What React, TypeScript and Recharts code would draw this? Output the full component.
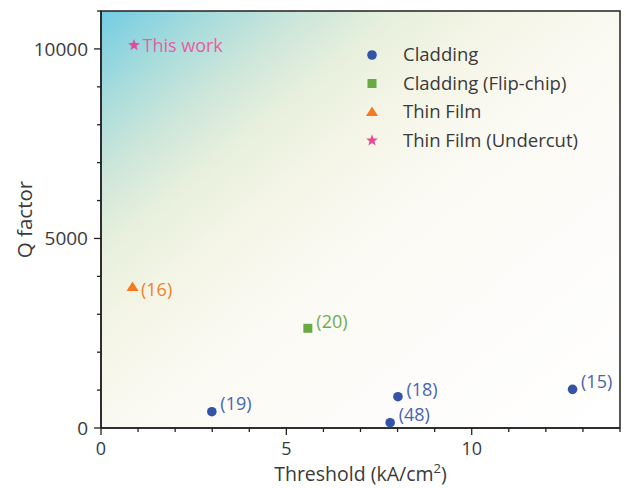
import React from 'react';
import { ScatterChart, Scatter, XAxis, YAxis, ReferenceArea, Legend } from 'recharts';

// ---- data ----
const claddingThreshold = [2.99, 7.8, 8.01, 12.72];
const claddingQ = [430, 140, 825, 1020];
const claddingRefs = ['(19)', '(48)', '(18)', '(15)'];

const flipThreshold = [5.58];
const flipQ = [2630];
const flipRefs = ['(20)'];

const thinThreshold = [0.85];
const thinQ = [3720];
const thinRefs = ['(16)'];

const undercutThreshold = [0.89];
const undercutQ = [10100];
const undercutRefs = ['This work'];

const xTicks = [0, 1, 2, 3, 4, 5, 6, 7, 8, 9, 10, 11, 12, 13, 14];
const xMajor = [0, 5, 10];
const yTicks = [0, 1000, 2000, 3000, 4000, 5000, 6000, 7000, 8000, 9000, 10000, 11000];
const yMajor = [0, 5000, 10000];

const seriesNames = ['Cladding', 'Cladding (Flip-chip)', 'Thin Film', 'Thin Film (Undercut)'];

const build = (xs: number[], qs: number[], refs: string[]) =>
  xs.map((x, i) => ({ x, q: qs[i], ref: refs[i] }));

const claddingData = build(claddingThreshold, claddingQ, claddingRefs);
const flipData = build(flipThreshold, flipQ, flipRefs);
const thinData = build(thinThreshold, thinQ, thinRefs);
const undercutData = build(undercutThreshold, undercutQ, undercutRefs);

// ---- styles ----
const FONT = '"Open Sans", "Noto Sans", sans-serif';
const AXIS = '#222';
const TEXT = '#3a3a3a';
const C_BLUE = '#3452a6';
const C_BLUE_T = '#4a63b2';
const C_GREEN = '#6aaa45';
const C_GREEN_T = '#6fae4a';
const C_ORANGE = '#f47b20';
const C_ORANGE_T = '#f0812e';
const C_PINK = '#e84a9a';
const C_PINK_T = '#e35fa3';

const starPoints = (cx: number, cy: number, ro: number, ri: number) => {
  const pts: string[] = [];
  for (let i = 0; i < 10; i++) {
    const r = i % 2 === 0 ? ro : ri;
    const a = -Math.PI / 2 + (i * Math.PI) / 5;
    pts.push(`${cx + r * Math.cos(a)},${cy + r * Math.sin(a)}`);
  }
  return pts.join(' ');
};

const Marker = ({ kind, cx, cy }: { kind: number; cx: number; cy: number }) => {
  if (kind === 0) return <circle cx={cx} cy={cy} r={4.8} fill={C_BLUE} />;
  if (kind === 1) return <rect x={cx - 4.5} y={cy - 4.5} width={9} height={9} fill={C_GREEN} />;
  if (kind === 2)
    return <polygon points={`${cx},${cy - 5.5} ${cx - 6},${cy + 4} ${cx + 6},${cy + 4}`} fill={C_ORANGE} />;
  return <polygon points={starPoints(cx, cy, 6.2, 2.6)} fill={C_PINK} />;
};

const makeShape = (kind: number, color: string, dy: number) => (props: any) => {
  const { cx, cy, payload } = props;
  return (
    <g>
      <Marker kind={kind} cx={cx} cy={cy} />
      <text x={cx + 8.5} y={cy + dy} dy="0.35em" fontSize={18} fill={color} fontFamily={FONT}>
        {payload.ref}
      </text>
    </g>
  );
};

const YTick = (props: any) => {
  const { x, y, payload } = props;
  const major = yMajor.includes(payload.value);
  return (
    <g>
      <line x1={x - (major ? 7 : 4)} x2={x} y1={y} y2={y} stroke={AXIS} strokeWidth={1.3} />
      {major && (
        <text x={x - 13} y={y} dy="0.35em" textAnchor="end" fontSize={19} fill={TEXT} fontFamily={FONT}>
          {payload.value}
        </text>
      )}
    </g>
  );
};

const XTick = (props: any) => {
  const { x, y, payload } = props;
  const major = xMajor.includes(payload.value);
  return (
    <g>
      <line x1={x} x2={x} y1={y} y2={y + (major ? 7 : 4)} stroke={AXIS} strokeWidth={1.3} />
      {major && (
        <text x={x} y={y + 27} textAnchor="middle" fontSize={18} fill={TEXT} fontFamily={FONT}>
          {payload.value}
        </text>
      )}
    </g>
  );
};

const XTitle = (props: any) => {
  const vb = props.viewBox;
  return (
    <text x={vb.x + vb.width / 2} y={vb.y + 53} textAnchor="middle" fontSize={19.5} fill={TEXT} fontFamily={FONT}>
      Threshold (kA/cm
      <tspan dy={-8} fontSize={13}>2</tspan>
      <tspan dy={8}>)</tspan>
    </text>
  );
};

const YTitle = (props: any) => {
  const vb = props.viewBox;
  const cy = vb.y + vb.height / 2;
  return (
    <text x={32} y={cy} transform={`rotate(-90, 32, ${cy})`} textAnchor="middle" fontSize={20.5} fill={TEXT} fontFamily={FONT}>
      Q factor
    </text>
  );
};

const Background = (props: any) => {
  const { x, y, width, height } = props;
  return (
    <g>
      <defs>
        <linearGradient id="bgGrad" x1="0" y1="0" x2="1" y2="1">
          <stop offset="0" stopColor="#72cce3" />
          <stop offset="0.11" stopColor="#a8dcdc" />
          <stop offset="0.2" stopColor="#cde6da" />
          <stop offset="0.29" stopColor="#e8f0dd" />
          <stop offset="0.39" stopColor="#f4f5e6" />
          <stop offset="0.5" stopColor="#faf9f1" />
          <stop offset="0.72" stopColor="#fdfcfa" />
          <stop offset="1" stopColor="#ffffff" />
        </linearGradient>
      </defs>
      <rect x={x} y={y} width={width} height={height} fill="url(#bgGrad)" />
      <rect x={x} y={y} width={width} height={height} fill="none" stroke={AXIS} strokeWidth={1.5} />
    </g>
  );
};

const LegendBox = () => {
  const rows = [0, 1, 2, 3];
  return (
    <svg width={260} height={120} style={{ display: 'block' }}>
      {rows.map((k) => {
        const cy = 15 + k * 28.5;
        return (
          <g key={k}>
            <Marker kind={k} cx={12} cy={cy} />
            <text x={43} y={cy} dy="0.35em" fontSize={18.5} fill={TEXT} fontFamily={FONT}>
              {seriesNames[k]}
            </text>
          </g>
        );
      })}
    </svg>
  );
};

export default function App() {
  return (
    <div style={{ position: 'absolute', left: 0, top: 0, width: 626, height: 488, background: '#fff' }}>
      <ScatterChart width={626} height={488} margin={{ top: 11, right: 6, bottom: 0, left: 0 }}>
        <ReferenceArea x1={0} x2={14} y1={0} y2={11000} shape={Background} />
        <XAxis
          type="number"
          dataKey="x"
          domain={[0, 14]}
          ticks={xTicks}
          interval={0}
          height={60}
          tickSize={0}
          tickMargin={0}
          tickLine={false}
          axisLine={{ stroke: AXIS, strokeWidth: 1.5 }}
          tick={<XTick />}
          label={XTitle}
          allowDataOverflow
        />
        <YAxis
          type="number"
          dataKey="q"
          domain={[0, 11000]}
          ticks={yTicks}
          interval={0}
          width={101}
          tickSize={0}
          tickMargin={0}
          tickLine={false}
          axisLine={{ stroke: AXIS, strokeWidth: 1.5 }}
          tick={<YTick />}
          label={YTitle}
          allowDataOverflow
        />
        <Legend
          layout="vertical"
          align="center"
          verticalAlign="middle"
          content={LegendBox}
          wrapperStyle={{ position: 'absolute', left: 360, top: 40, width: 260, height: 120 }}
        />
        <Scatter name={seriesNames[0]} data={claddingData} shape={makeShape(0, C_BLUE_T, -7.5)} isAnimationActive={false} />
        <Scatter name={seriesNames[1]} data={flipData} shape={makeShape(1, C_GREEN_T, -7)} isAnimationActive={false} />
        <Scatter name={seriesNames[2]} data={thinData} shape={makeShape(2, C_ORANGE_T, 3)} isAnimationActive={false} />
        <Scatter name={seriesNames[3]} data={undercutData} shape={makeShape(3, C_PINK_T, 1)} isAnimationActive={false} />
      </ScatterChart>
    </div>
  );
}
